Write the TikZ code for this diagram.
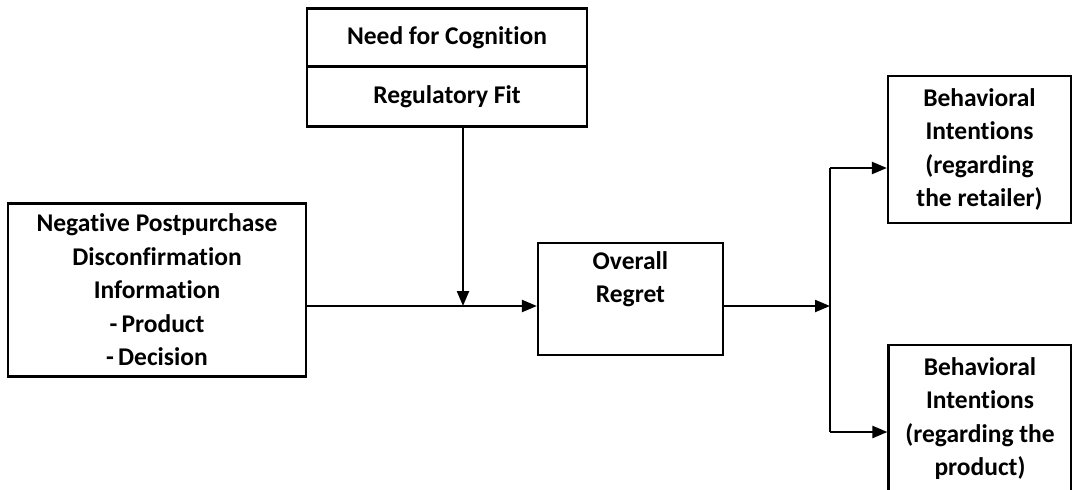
\documentclass[tikz,border=0pt]{standalone}
\usepackage{fontspec}
\setmainfont{Carlito}[Ligatures=NoCommon]
\usetikzlibrary{arrows.meta}
\begin{document}
\begin{tikzpicture}[x=1pt,y=-1pt,
  box/.style={draw,line width=2.2pt,inner sep=0pt,align=center,
    font=\fontsize{25.5}{33.5}\selectfont\bfseries},
  arr/.style={line width=2.2pt,-{Triangle[length=15pt,width=12pt]}},
  ln/.style={line width=2.2pt}]
\useasboundingbox[fill=white] (0,0) rectangle (1072,490);
\node[box,minimum width=280pt,minimum height=58pt] (nfc) at (447,37.5) {Need for Cognition};
\node[box,minimum width=280pt,minimum height=60pt] (rf) at (447,96.5) {Regulatory Fit};
\node[box,minimum width=298pt,minimum height=173pt] (npd) at (157,290)
  {Negative Postpurchase\\Disconfirmation\\Information\\-\,Product\\-\,Decision};
\node[box,minimum width=185pt,minimum height=112pt] (or) at (630.5,299)
  {Overall\\Regret\\\strut};
\node[box,minimum width=183pt,minimum height=147pt] (bi1) at (979.5,149.5)
  {Behavioral\\Intentions\\(regarding\\the retailer)};
\node[box,minimum width=183pt,minimum height=147pt] (bi2) at (980,418.5)
  {Behavioral\\Intentions\\(regarding the\\product)};
\coordinate (m) at (463,306);
\coordinate (br) at (830,306);
\coordinate (bt) at (830,168);
\coordinate (bb) at (830,432);
\draw[arr] (npd.east |- m) -- (or.west |- m);
\draw[arr] (rf.south -| m) -- (m);
\draw[arr] (or.east |- br) -- (br);
\draw[ln] (bt) -- (bb);
\draw[arr] (bt) -- (bt -| bi1.west);
\draw[arr] (bb) -- (bb -| bi2.west);
\end{tikzpicture}
\end{document}
